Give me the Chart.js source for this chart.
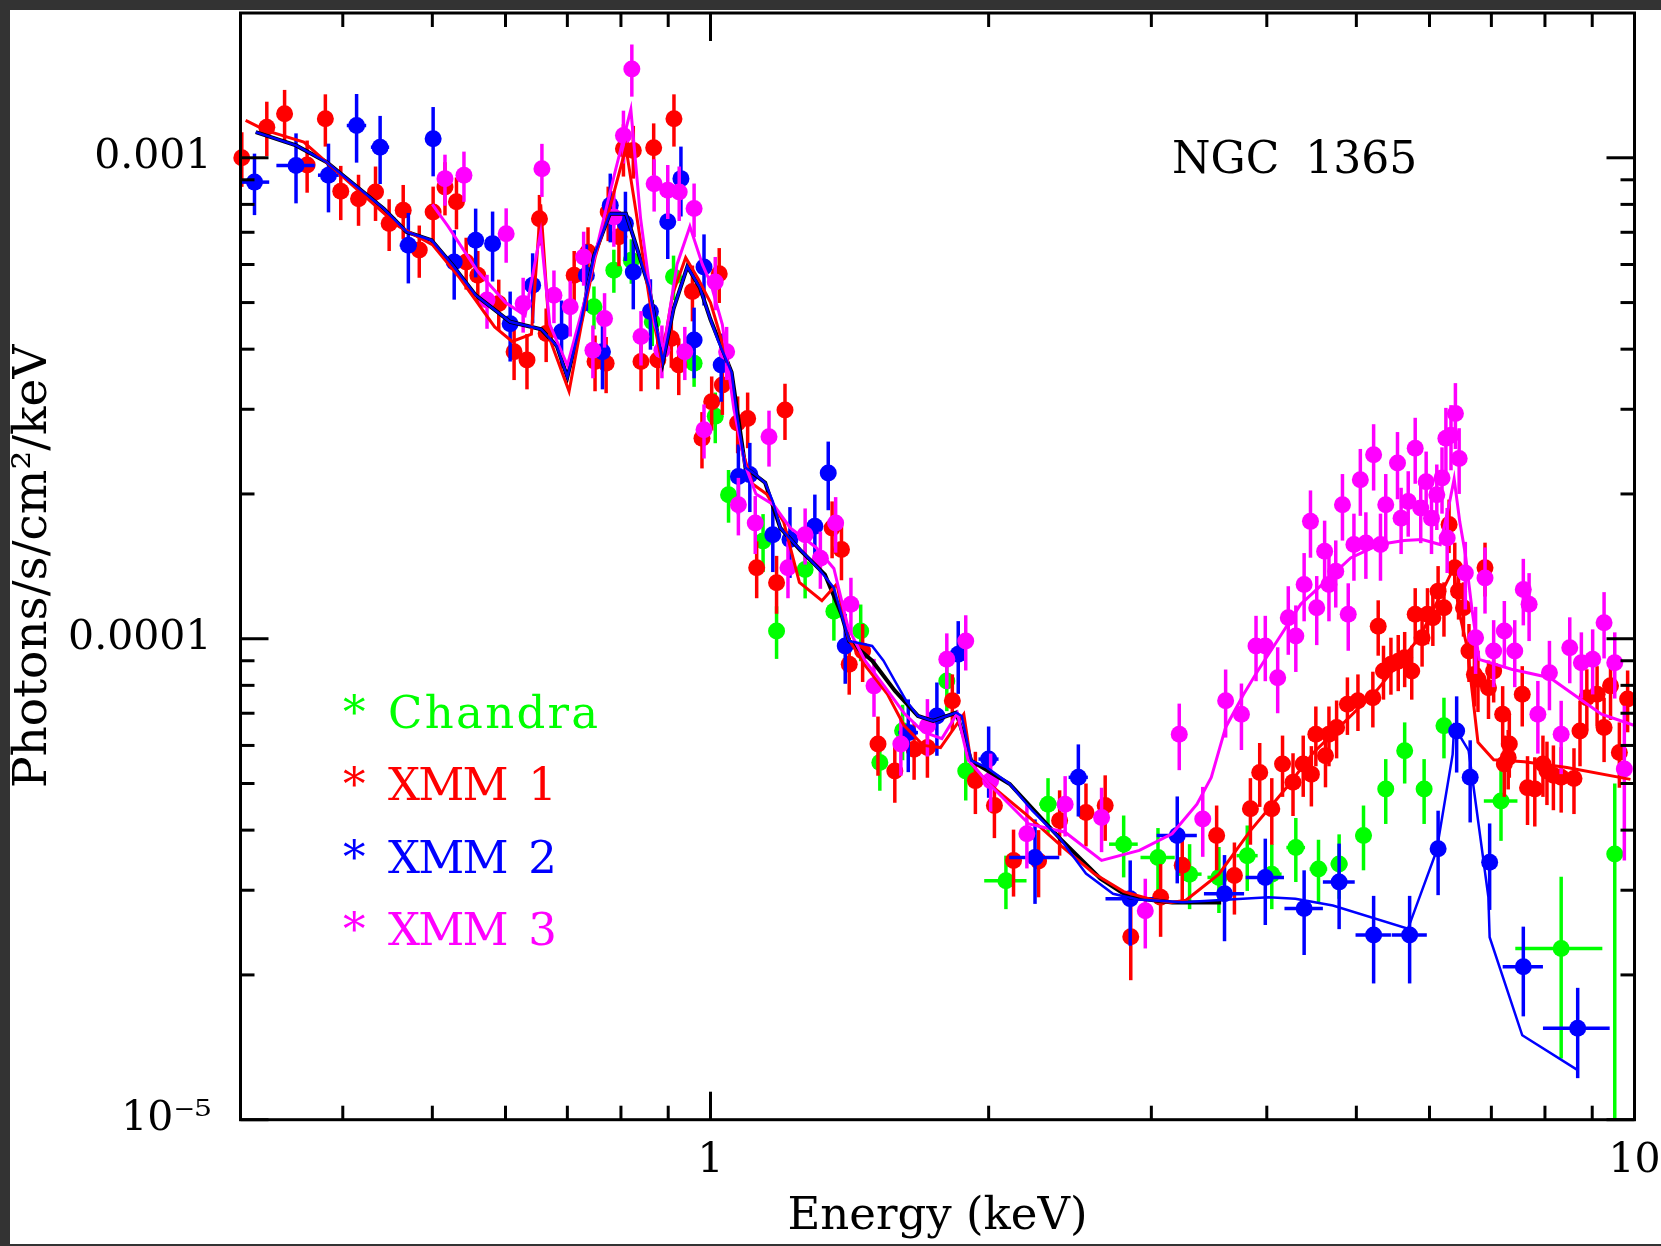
<!DOCTYPE html>
<html>
<head>
<meta charset="utf-8">
<script src="https://cdn.jsdelivr.net/npm/chart.js@4.4.0/dist/chart.umd.min.js"></script>
<style>
html,body{margin:0;padding:0;background:#333;width:1661px;height:1246px;overflow:hidden;}
#paper{position:absolute;left:10px;top:10px;width:1651px;height:1234px;background:#fff;}
#c{position:absolute;left:0;top:0;}
.lbl{position:absolute;font-family:'DejaVu Serif',serif;white-space:pre;}
.leg{left:343px;font-size:45px;line-height:45px;height:45px;width:400px;}
.leg .ast{position:absolute;left:0;top:0;}
.leg .nm{position:absolute;left:45px;top:0;}
.leg .wide{letter-spacing:2.3px;}
.leg .tight{letter-spacing:-1.8px;word-spacing:9px;}
</style>
</head>
<body>
<div id="paper"></div>
<canvas id="c" width="1661" height="1246"></canvas>
<div class="lbl" style="left:1172px;top:136px;font-size:44px;line-height:44px;word-spacing:12px;color:#000;">NGC 1365</div>
<div class="lbl leg" style="top:690px;color:#00ff00;"><span class="ast">*</span><span class="nm wide">Chandra</span></div>
<div class="lbl leg" style="top:762px;color:#ff0000;"><span class="ast">*</span><span class="nm tight">XMM 1</span></div>
<div class="lbl leg" style="top:835px;color:#0000ff;"><span class="ast">*</span><span class="nm tight">XMM 2</span></div>
<div class="lbl leg" style="top:907px;color:#ff00ff;"><span class="ast">*</span><span class="nm tight">XMM 3</span></div>
<script>
// ---------- axis ticks ----------
const xTickValues = [1, 10];
const xTickLabels = ['1', '10'];
const xMinorTicks = [0.4, 0.5, 0.6, 0.7, 0.8, 0.9, 2, 3, 4, 5, 6, 7, 8, 9];
const yTickValues = [1e-5, 1e-4, 1e-3];
const yTickLabels = ['10\u207B\u2075', '0.0001', '0.001'];
const yMinorTicks = [2e-5, 3e-5, 4e-5, 5e-5, 6e-5, 7e-5, 8e-5, 9e-5, 2e-4, 3e-4, 4e-4, 5e-4, 6e-4, 7e-4, 8e-4, 9e-4];

// ---------- XMM 1 (red) data ----------
const xmm1E = [0.311,0.331,0.346,0.366,0.383,0.398,0.416,0.434,0.449,0.465,
0.484,0.501,0.516,0.531,0.544,0.560,0.590,0.613,0.633,0.653,
0.664,0.712,0.737,0.750,0.771,0.775,0.796,0.805,0.825,0.841,
0.868,0.877,0.907,0.913,0.924,0.956,0.979,1.003,1.022,1.030,
1.070,1.097,1.122,1.179,1.204,1.354,1.386,1.413,1.461,1.518,
1.583,1.661,1.717,1.827,1.935,2.029,2.128,2.265,2.387,2.549,
2.674,2.850,3.070,3.240,3.530,3.690,3.840,3.930,4.050,4.160,
4.270,4.380,4.470,4.520,4.630,4.670,4.760,4.890,5.020,5.210,
5.280,5.350,5.450,5.550,5.640,5.740,5.790,5.890,5.970,6.050,
6.130,6.220,6.300,6.390,6.450,6.530,6.620,6.710,6.770,6.890,
6.950,7.040,7.200,7.230,7.300,7.320,7.560,7.660,7.800,7.960,
8.040,8.170,8.330,8.600,8.730,8.880,9.110,9.270,9.420,9.630,
9.830];
const xmm1F = [1.000e-3,1.158e-3,1.234e-3,9.66e-4,1.205e-3,8.52e-4,8.22e-4,8.49e-4,7.30e-4,7.78e-4,
6.43e-4,7.71e-4,8.69e-4,8.10e-4,6.07e-4,5.70e-4,4.98e-4,3.95e-4,3.80e-4,7.47e-4,
4.31e-4,5.70e-4,6.37e-4,3.77e-4,3.74e-4,7.71e-4,6.85e-4,1.044e-3,1.035e-3,3.77e-4,
1.049e-3,3.80e-4,4.21e-4,1.205e-3,3.71e-4,5.27e-4,2.61e-4,3.11e-4,5.74e-4,3.37e-4,
2.81e-4,2.87e-4,1.404e-4,1.307e-4,2.99e-4,1.70e-4,1.533e-4,8.85e-5,9.43e-5,6.04e-5,
5.31e-5,5.89e-5,5.94e-5,7.43e-5,5.07e-5,4.50e-5,3.46e-5,3.45e-5,4.19e-5,4.35e-5,
4.50e-5,2.40e-5,2.90e-5,3.38e-5,3.90e-5,3.22e-5,4.43e-5,5.27e-5,4.43e-5,5.49e-5,
5.03e-5,5.49e-5,5.23e-5,6.33e-5,5.71e-5,6.33e-5,6.54e-5,7.31e-5,7.43e-5,7.54e-5,
1.062e-4,8.57e-5,8.85e-5,8.98e-5,9.13e-5,8.57e-5,1.124e-4,1.005e-4,1.124e-4,1.106e-4,
1.256e-4,1.160e-4,1.727e-4,1.404e-4,1.256e-4,1.160e-4,9.43e-5,8.43e-5,8.24e-5,1.404e-4,
7.91e-5,8.57e-5,6.97e-5,5.49e-5,5.66e-5,6.04e-5,7.67e-5,4.90e-5,4.87e-5,5.49e-5,
5.31e-5,5.20e-5,5.15e-5,5.12e-5,6.43e-5,7.54e-5,7.67e-5,6.54e-5,7.98e-5,5.80e-5,
7.49e-5];
const xmm1Err = [1.3e-4,1.5e-4,1.5e-4,1.2e-4,1.5e-4,1.1e-4,1.0e-4,1.1e-4,9e-5,1.0e-4,
8e-5,1.0e-4,1.1e-4,1.0e-4,7.5e-5,7e-5,6e-5,5e-5,5e-5,9e-5,
5.5e-5,7e-5,8e-5,5e-5,5e-5,1.0e-4,9e-5,1.3e-4,1.3e-4,5e-5,
1.3e-4,5e-5,5.5e-5,1.5e-4,5e-5,7e-5,3.5e-5,4e-5,7.5e-5,4.5e-5,
3.8e-5,3.8e-5,1.9e-5,1.8e-5,4e-5,2.3e-5,2.1e-5,1.2e-5,1.3e-5,8.5e-6,
7.5e-6,8e-6,8e-6,1.0e-5,7.5e-6,6.5e-6,5.5e-6,5.5e-6,6.5e-6,6.5e-6,
7e-6,4.5e-6,5e-6,5.5e-6,6e-6,5.5e-6,7e-6,8e-6,7e-6,8e-6,
7.5e-6,8e-6,7.5e-6,9e-6,8e-6,9e-6,9e-6,1.0e-5,1.0e-5,1.0e-5,
1.4e-5,1.1e-5,1.2e-5,1.2e-5,1.2e-5,1.1e-5,1.5e-5,1.3e-5,1.5e-5,1.4e-5,
1.6e-5,1.5e-5,2.2e-5,1.8e-5,1.6e-5,1.5e-5,1.3e-5,1.2e-5,1.2e-5,1.8e-5,
1.1e-5,1.2e-5,1.0e-5,8e-6,8e-6,9e-6,1.1e-5,8e-6,8e-6,8e-6,
8e-6,8e-6,8e-6,8e-6,1.0e-5,1.1e-5,1.1e-5,1.0e-5,1.2e-5,9e-6,
1.1e-5];

// ---------- XMM 2 (blue) data ----------
const xmm2E = [0.321,0.356,0.386,0.414,0.439,0.471,0.501,0.528,0.557,0.581,
0.607,0.642,0.690,0.734,0.764,0.779,0.809,0.825,0.861,0.899,
0.929,0.960,0.984,1.027,1.072,1.103,1.168,1.219,1.297,1.341,
1.399,1.637,1.758,1.854,2.000,2.245,2.501,2.846,3.200,3.600,
3.985,4.390,4.790,5.220,5.710,6.130,6.420,6.640,6.970,7.580,
8.680];
const xmm2F = [8.90e-4,9.64e-4,9.20e-4,1.167e-3,1.052e-3,6.58e-4,1.095e-3,6.07e-4,6.74e-4,6.63e-4,
4.52e-4,5.43e-4,4.35e-4,5.70e-4,3.95e-4,7.97e-4,7.30e-4,5.79e-4,4.79e-4,7.36e-4,
9.05e-4,4.18e-4,5.93e-4,3.71e-4,2.175e-4,2.194e-4,1.646e-4,1.608e-4,1.714e-4,2.21e-4,
9.66e-5,6.38e-5,6.91e-5,9.28e-5,5.62e-5,3.51e-5,5.15e-5,2.88e-5,3.90e-5,2.95e-5,
3.19e-5,2.75e-5,3.12e-5,2.42e-5,2.42e-5,3.66e-5,6.43e-5,5.15e-5,3.43e-5,2.08e-5,
1.55e-5];
const xmm2Err = [1.3e-4,1.6e-4,1.5e-4,1.9e-4,1.7e-4,1.1e-4,1.8e-4,1.0e-4,1.1e-4,1.1e-4,
7.5e-5,9e-5,7e-5,9e-5,6.5e-5,1.3e-4,1.2e-4,9.5e-5,8e-5,1.2e-4,
1.5e-4,7e-5,1.0e-4,6e-5,3.6e-5,3.6e-5,2.7e-5,2.7e-5,2.8e-5,3.6e-5,
1.6e-5,1.1e-5,1.2e-5,1.6e-5,9.5e-6,7e-6,8.8e-6,5.8e-6,8e-6,6e-6,
6.5e-6,5.5e-6,6.3e-6,5e-6,5e-6,7.3e-6,1.16e-5,1.0e-5,7e-6,4.4e-6,
3.3e-6];
const xmm2XErr = [0.012,0.017,0.01,0.01,0.01,0.01,0.01,0.01,0.01,0.01,
0.01,0.01,0.01,0.01,0.01,0.01,0.01,0.01,0.01,0.01,
0.01,0.01,0.01,0.012,0.012,0.012,0.015,0.015,0.02,0.02,
0.02,0.04,0.04,0.04,0.05,0.14,0.06,0.17,0.16,0.18,
0.19,0.21,0.19,0.23,0.25,0.06,0.05,0.05,0.08,0.38,
0.72];

// ---------- XMM 3 (magenta) data ----------
const xmm3E = [0.516,0.541,0.573,0.601,0.627,0.657,0.677,0.705,0.729,0.746,
0.768,0.786,0.805,0.822,0.841,0.869,0.886,0.899,0.925,0.938,
0.960,0.984,1.012,1.041,1.072,1.118,1.157,1.213,1.266,1.315,
1.366,1.419,1.503,1.607,1.717,1.802,1.889,2.010,2.200,2.420,
2.650,2.955,3.216,3.410,3.610,3.755,3.894,3.985,4.110,4.220,
4.300,4.390,4.460,4.530,4.620,4.670,4.750,4.830,4.900,4.970,
5.050,5.120,5.220,5.310,5.380,5.540,5.590,5.690,5.790,5.870,
5.950,6.030,6.110,6.190,6.250,6.270,6.330,6.400,6.460,6.560,
6.730,6.890,7.040,7.230,7.420,7.580,7.690,7.860,8.090,8.330,
8.510,8.760,9.010,9.270,9.520,9.750];
const xmm3F = [9.05e-4,9.20e-4,5.06e-4,6.95e-4,4.98e-4,9.49e-4,5.18e-4,4.90e-4,6.22e-4,3.98e-4,
4.63e-4,7.53e-4,1.113e-3,1.530e-3,4.25e-4,8.83e-4,3.98e-4,8.56e-4,8.49e-4,3.95e-4,
7.84e-4,2.72e-4,5.52e-4,3.95e-4,1.90e-4,1.74e-4,2.63e-4,1.404e-4,1.646e-4,1.47e-4,
1.74e-4,1.179e-4,7.98e-5,6.04e-5,6.59e-5,9.06e-5,9.89e-5,5.07e-5,3.93e-5,4.53e-5,
4.25e-5,2.72e-5,6.33e-5,4.22e-5,7.43e-5,6.97e-5,9.66e-5,9.66e-5,8.30e-5,1.106e-4,
1.013e-4,1.297e-4,1.754e-4,1.160e-4,1.520e-4,1.297e-4,1.381e-4,1.900e-4,1.124e-4,1.570e-4,
2.141e-4,1.582e-4,2.413e-4,1.570e-4,1.900e-4,2.320e-4,1.780e-4,1.930e-4,2.490e-4,1.870e-4,
2.120e-4,1.780e-4,1.993e-4,2.160e-4,2.610e-4,1.620e-4,2.650e-4,2.940e-4,2.370e-4,1.370e-4,
1.005e-4,1.338e-4,9.43e-5,1.038e-4,9.43e-5,1.266e-4,1.179e-4,6.97e-5,8.50e-5,6.33e-5,
9.58e-5,8.91e-5,9.06e-5,1.080e-4,8.91e-5,5.36e-5];
const xmm3Err = [1.1e-4,1.1e-4,6.5e-5,9e-5,6.5e-5,1.2e-4,6.5e-5,6.5e-5,8e-5,5e-5,
6e-5,1.0e-4,1.4e-4,1.9e-4,5.5e-5,1.1e-4,5e-5,1.1e-4,1.1e-4,5e-5,
1.0e-4,3.5e-5,7e-5,5e-5,2.6e-5,2.4e-5,3.5e-5,1.9e-5,2.2e-5,2e-5,
2.3e-5,1.6e-5,1.1e-5,8.5e-6,9e-6,1.2e-5,1.3e-5,7e-6,6e-6,6.5e-6,
6.5e-6,4.5e-6,1.0e-5,7e-6,1.2e-5,1.1e-5,1.5e-5,1.5e-5,1.3e-5,1.8e-5,
1.6e-5,2.1e-5,2.8e-5,1.9e-5,2.4e-5,2.1e-5,2.2e-5,3e-5,1.8e-5,2.5e-5,
3.4e-5,2.5e-5,3.8e-5,2.5e-5,3e-5,3.7e-5,2.8e-5,3e-5,3.9e-5,2.9e-5,
3.3e-5,2.8e-5,3.1e-5,3.4e-5,4.1e-5,2.5e-5,4.1e-5,4.6e-5,3.7e-5,2.2e-5,
1.6e-5,2.1e-5,1.5e-5,1.6e-5,1.5e-5,2e-5,1.9e-5,1.2e-5,1.4e-5,1.1e-5,
1.5e-5,1.4e-5,1.4e-5,1.7e-5,1.4e-5,1.9e-5];

// ---------- Chandra (green) data ----------
const chandraE = [0.748,0.786,0.821,0.865,0.912,0.960,1.012,1.046,1.140,1.179,
1.266,1.360,1.454,1.525,1.614,1.802,1.889,2.088,2.319,2.800,
3.050,3.300,3.550,3.810,4.050,4.300,4.550,4.790,5.090,5.380,
5.640,5.920,6.220,7.170,8.330,9.520];
const chandraF = [4.90e-4,5.84e-4,6.12e-4,4.56e-4,5.66e-4,3.74e-4,2.90e-4,1.993e-4,1.596e-4,1.038e-4,
1.393e-4,1.141e-4,1.038e-4,5.53e-5,6.44e-5,8.17e-5,5.31e-5,3.14e-5,4.53e-5,3.74e-5,
3.51e-5,3.24e-5,3.19e-5,3.54e-5,3.24e-5,3.68e-5,3.32e-5,3.40e-5,3.90e-5,4.87e-5,
5.85e-5,4.87e-5,6.59e-5,4.60e-5,2.27e-5,3.57e-5];
const chandraErrHi = [5e-5,6e-5,6.5e-5,5e-5,6e-5,4e-5,3.5e-5,2.5e-5,2.2e-5,1.3e-5,
1.8e-5,1.5e-5,1.4e-5,7e-6,8.5e-6,1.1e-5,7e-6,4e-6,6e-6,5.5e-6,
5.3e-6,5e-6,5e-6,5.5e-6,5e-6,5.6e-6,5e-6,5.2e-6,6e-6,7.5e-6,
8.5e-6,7.5e-6,9.5e-6,8e-6,9.3e-6,1.43e-5];
const chandraErrLo = [5e-5,6e-5,6.5e-5,5e-5,6e-5,4e-5,3.5e-5,2.5e-5,2.2e-5,1.3e-5,
1.8e-5,1.5e-5,1.4e-5,7e-6,8.5e-6,1.1e-5,7e-6,4e-6,6e-6,5.5e-6,
5.3e-6,5e-6,5e-6,5.5e-6,5e-6,5.6e-6,5e-6,5.2e-6,6e-6,7.5e-6,
8.5e-6,7.5e-6,9.5e-6,8e-6,9.3e-6,3.57e-5];
const chandraXErr = [0,0,0,0,0,0,0,0,0,0,
0,0,0,0,0,0,0,0.11,0.05,0.1,
0.13,0.1,0.1,0.1,0.1,0.1,0.1,0.1,0.1,0.1,
0.1,0.1,0.1,0.3,0.9,0];

// ---------- model curves ----------
const xmm1ModelE = [0.314,0.330,0.363,0.384,0.420,0.460,0.500,0.536,0.584,0.610,
0.640,0.655,0.670,0.703,0.725,0.750,0.780,0.810,0.830,0.860,
0.885,0.910,0.940,0.970,1.000,1.020,1.050,1.080,1.110,1.150,
1.200,1.248,1.320,1.370,1.410,1.470,1.554,1.620,1.700,1.774,
1.880,1.915,2.000,2.200,2.400,2.600,2.800,3.000,3.150,3.270,
3.550,3.840,4.200,4.490,5.270,5.860,6.250,6.370,6.450,6.590,
6.770,7.040,7.600,8.450,9.900];
const xmm1ModelF = [1.196e-3,1.14e-3,1.078e-3,9.80e-4,8.40e-4,7.20e-4,6.60e-4,5.61e-4,4.45e-4,4.15e-4,
4.30e-4,8.00e-4,4.20e-4,3.27e-4,4.50e-4,6.20e-4,8.00e-4,1.05e-3,7.80e-4,5.00e-4,
3.80e-4,5.20e-4,6.20e-4,5.60e-4,5.00e-4,4.40e-4,3.60e-4,2.50e-4,2.10e-4,2.00e-4,
1.75e-4,1.31e-4,1.20e-4,1.30e-4,1.00e-4,8.80e-5,7.67e-5,6.60e-5,6.00e-5,5.94e-5,
6.97e-5,5.50e-5,5.00e-5,4.30e-5,3.70e-5,3.25e-5,2.98e-5,2.87e-5,2.83e-5,2.86e-5,
3.24e-5,3.99e-5,4.90e-5,5.79e-5,7.84e-5,1.01e-4,1.30e-4,1.40e-4,1.15e-4,9.60e-5,
6.09e-5,5.60e-5,5.55e-5,5.40e-5,5.10e-5];

const xmm2ModelE = [0.322,0.356,0.384,0.443,0.469,0.499,0.526,0.557,0.607,
0.656,0.682,0.700,0.725,0.748,0.778,0.810,0.831,0.858,0.888,
0.912,0.944,0.974,1.000,1.019,1.054,1.068,1.091,1.113,1.146,
1.168,1.190,1.236,1.309,1.360,1.386,1.413,1.496,1.539,1.583,
1.629,1.677,1.742,1.845,1.870,1.915,1.990,2.108,2.230,2.387,
2.549,2.727,2.900,3.243,4.018,4.295,4.716,5.686,6.107,6.356,
6.380,6.615,6.948,6.970,7.560,8.680];
const xmm2ModelF = [1.131e-3,1.061e-3,9.80e-4,7.84e-4,7.01e-4,6.74e-4,5.98e-4,5.18e-4,4.56e-4,
4.40e-4,4.06e-4,3.50e-4,4.61e-4,6.25e-4,7.65e-4,7.65e-4,6.57e-4,5.37e-4,3.76e-4,
4.85e-4,5.94e-4,5.37e-4,4.61e-4,4.17e-4,3.58e-4,2.92e-4,2.27e-4,2.21e-4,2.11e-4,
1.93e-4,1.70e-4,1.57e-4,1.40e-4,1.276e-4,1.124e-4,9.89e-5,9.66e-5,9.00e-5,8.17e-5,
7.43e-5,6.91e-5,6.75e-5,7.02e-5,6.91e-5,5.58e-5,5.40e-5,4.99e-5,4.39e-5,3.85e-5,
3.25e-5,2.95e-5,2.87e-5,2.833e-5,2.902e-5,2.88e-5,2.788e-5,2.494e-5,3.627e-5,5.75e-5,
6.57e-5,5.85e-5,2.902e-5,2.396e-5,1.498e-5,1.268e-5];

const xmm3ModelE = [0.500,0.520,0.560,0.600,0.630,0.655,0.670,0.700,0.730,0.760,
0.790,0.820,0.840,0.870,0.890,0.920,0.950,0.980,1.000,1.030,
1.060,1.090,1.120,1.170,1.220,1.300,1.360,1.410,1.470,1.540,
1.620,1.700,1.780,1.850,1.900,2.000,2.211,2.420,2.650,2.912,
3.159,3.361,3.483,3.610,3.774,3.910,4.126,4.352,4.674,4.929,
5.293,5.632,5.890,6.162,6.300,6.380,6.470,6.560,6.670,6.790,
7.360,8.100,9.210,10.00];
const xmm3ModelF = [8.00e-4,7.20e-4,5.80e-4,5.00e-4,4.70e-4,7.00e-4,4.50e-4,3.70e-4,5.00e-4,7.00e-4,
9.50e-4,1.26e-3,7.50e-4,4.50e-4,4.00e-4,6.00e-4,7.20e-4,6.00e-4,5.50e-4,4.50e-4,
3.00e-4,2.30e-4,2.00e-4,1.90e-4,1.70e-4,1.55e-4,1.40e-4,1.05e-4,9.00e-5,8.00e-5,
7.00e-5,6.40e-5,6.20e-5,7.00e-5,5.60e-5,5.00e-5,4.12e-5,3.96e-5,3.46e-5,3.63e-5,
3.93e-5,4.53e-5,5.15e-5,6.54e-5,7.66e-5,8.57e-5,1.005e-4,1.179e-4,1.338e-4,1.472e-4,
1.570e-4,1.600e-4,1.608e-4,1.570e-4,1.900e-4,2.150e-4,1.750e-4,1.500e-4,1.150e-4,9.06e-5,
8.64e-5,8.30e-5,6.97e-5,6.60e-5];

const blackModelE = [0.322,0.356,0.384,0.443,0.469,0.499,0.526,0.557,0.607,0.656,
0.682,0.700,0.725,0.748,0.778,0.810,0.831,0.858,0.888,0.912,
0.944,0.974,1.000,1.054,1.091,1.146,1.190,1.250,1.330,1.386,
1.413,1.496,1.583,1.677,1.742,1.845,1.915,2.108,2.387,2.643,
2.840,3.160,3.570];
const blackModelF = [1.131e-3,1.061e-3,9.80e-4,7.84e-4,7.01e-4,6.74e-4,5.98e-4,5.18e-4,4.56e-4,4.40e-4,
4.06e-4,3.50e-4,4.61e-4,6.25e-4,7.65e-4,7.65e-4,6.57e-4,5.37e-4,3.76e-4,4.85e-4,
5.94e-4,5.37e-4,4.61e-4,3.58e-4,2.27e-4,2.11e-4,1.70e-4,1.53e-4,1.36e-4,1.124e-4,
9.89e-5,9.00e-5,7.80e-5,6.91e-5,6.75e-5,7.02e-5,5.58e-5,4.99e-5,3.85e-5,3.17e-5,
2.90e-5,2.83e-5,2.83e-5];

// ---------- build chart ----------
function pts(xs, ys) { return xs.map((x, i) => ({ x: x, y: ys[i] })); }

function pointSet(label, color, xs, ys, errLo, errHi, xErr, order) {
  return {
    label: label, data: pts(xs, ys), order: order, clip: false,
    showLine: false, pointRadius: 8.5, pointHoverRadius: 8.5,
    pointBackgroundColor: color, pointBorderColor: color, pointBorderWidth: 0,
    borderColor: color, backgroundColor: color,
    errLo: errLo, errHi: errHi, xErr: xErr
  };
}
function lineSet(label, color, xs, ys, width, order) {
  return {
    label: label, data: pts(xs, ys), order: order, clip: false,
    showLine: true, pointRadius: 0, pointHoverRadius: 0, borderColor: color,
    backgroundColor: color, borderWidth: width, tension: 0, fill: false
  };
}

const errorBarsAndFrame = {
  id: 'errorBarsAndFrame',
  beforeDatasetDraw(chart, args) {
    const ds = chart.data.datasets[args.index];
    if (!ds.errHi) return;
    const xs = chart.scales.x, ys = chart.scales.y, ca = chart.chartArea, ctx = chart.ctx;
    ctx.save();
    ctx.strokeStyle = ds.borderColor;
    ctx.lineWidth = 3.5;
    ctx.lineCap = 'butt';
    ds.data.forEach((p, i) => {
      const px = xs.getPixelForValue(p.x);
      const py = ys.getPixelForValue(p.y);
      const hi = p.y + (ds.errHi[i] || 0);
      const lo = p.y - (ds.errLo[i] || 0);
      const yTop = Math.max(ys.getPixelForValue(hi), ca.top);
      const yBot = lo > 0 ? Math.min(ys.getPixelForValue(lo), ca.bottom) : ca.bottom;
      ctx.beginPath(); ctx.moveTo(px, yTop); ctx.lineTo(px, yBot); ctx.stroke();
      const xe = ds.xErr ? (ds.xErr[i] || 0) : 0;
      if (xe > 0) {
        const xl = xs.getPixelForValue(p.x - xe), xr = Math.min(xs.getPixelForValue(p.x + xe), ca.right);
        ctx.beginPath(); ctx.moveTo(xl, py); ctx.lineTo(xr, py); ctx.stroke();
      }
    });
    ctx.restore();
  },
  afterDraw(chart) {
    const ctx = chart.ctx, ca = chart.chartArea, xs = chart.scales.x, ys = chart.scales.y;
    ctx.save();
    ctx.strokeStyle = '#000';
    ctx.lineWidth = 3;
    ctx.lineCap = 'butt';
    ctx.strokeRect(ca.left, ca.top, ca.right - ca.left, ca.bottom - ca.top);
    const seg = (x1, y1, x2, y2) => { ctx.beginPath(); ctx.moveTo(x1, y1); ctx.lineTo(x2, y2); ctx.stroke(); };
    const xt = (v, len) => { const px = xs.getPixelForValue(v); seg(px, ca.bottom, px, ca.bottom - len); seg(px, ca.top, px, ca.top + len); };
    const yt = (v, len) => { const py = ys.getPixelForValue(v); seg(ca.left, py, ca.left + len, py); seg(ca.right, py, ca.right - len, py); };
    xTickValues.forEach(v => xt(v, 28));
    xMinorTicks.forEach(v => xt(v, 14));
    yTickValues.forEach(v => yt(v, 28));
    yMinorTicks.forEach(v => yt(v, 14));
    ctx.restore();
  }
};

const FONT = "'DejaVu Serif', serif";

new Chart(document.getElementById('c').getContext('2d'), {
  type: 'scatter',
  data: {
    datasets: [
      lineSet('XMM 2 model', '#0000ff', xmm2ModelE, xmm2ModelF, 2.5, 0),
      lineSet('XMM 3 model', '#ff00ff', xmm3ModelE, xmm3ModelF, 3, 1),
      lineSet('XMM 1 model', '#ff0000', xmm1ModelE, xmm1ModelF, 3, 2),
      lineSet('model', '#000000', blackModelE, blackModelF, 4, 3),
      pointSet('XMM 3', '#ff00ff', xmm3E, xmm3F, xmm3Err, xmm3Err, null, 4),
      pointSet('XMM 2', '#0000ff', xmm2E, xmm2F, xmm2Err, xmm2Err, xmm2XErr, 5),
      pointSet('XMM 1', '#ff0000', xmm1E, xmm1F, xmm1Err, xmm1Err, null, 6),
      pointSet('Chandra', '#00ff00', chandraE, chandraF, chandraErrLo, chandraErrHi, chandraXErr, 7)
    ]
  },
  options: {
    responsive: false,
    animation: false,
    devicePixelRatio: 1,
    events: [],
    layout: { padding: { left: 0, top: 13, right: 26.5, bottom: 0 } },
    plugins: { legend: { display: false }, tooltip: { enabled: false } },
    scales: {
      x: {
        type: 'logarithmic', position: 'bottom', min: 0.31, max: 10, bounds: 'data',
        grid: { display: false, drawTicks: false }, border: { display: false },
        afterBuildTicks: s => { s.ticks = xTickValues.map(v => ({ value: v })); },
        afterFit: s => { s.height = 126.3; s.paddingLeft = 0; s.paddingRight = 0; },
        ticks: {
          autoSkip: false, maxRotation: 0, minRotation: 0, padding: 17, color: '#000',
          font: { family: FONT, size: 41 },
          callback: (v) => { const k = xTickValues.indexOf(v); return k >= 0 ? xTickLabels[k] : ''; }
        },
        title: { display: true, text: 'Energy (keV)', color: '#000', font: { family: FONT, size: 45 }, padding: { top: 0, bottom: 2 } }
      },
      y: {
        type: 'logarithmic', position: 'left', min: 1e-5, max: 2e-3, bounds: 'data',
        grid: { display: false, drawTicks: false }, border: { display: false },
        afterBuildTicks: s => { s.ticks = yTickValues.map(v => ({ value: v })); },
        afterFit: s => { s.width = 240.5; s.paddingTop = 0; s.paddingBottom = 0; },
        ticks: {
          autoSkip: false, padding: 29, color: '#000',
          font: { family: FONT, size: 41 },
          callback: (v) => { const k = yTickValues.indexOf(v); return k >= 0 ? yTickLabels[k] : ''; }
        },
        title: { display: true, text: 'Photons/s/cm\u00B2/keV', color: '#000', font: { family: FONT, size: 47 }, padding: { top: 5.5, bottom: 0 } }
      }
    }
  },
  plugins: [errorBarsAndFrame]
});
</script>
</body>
</html>
